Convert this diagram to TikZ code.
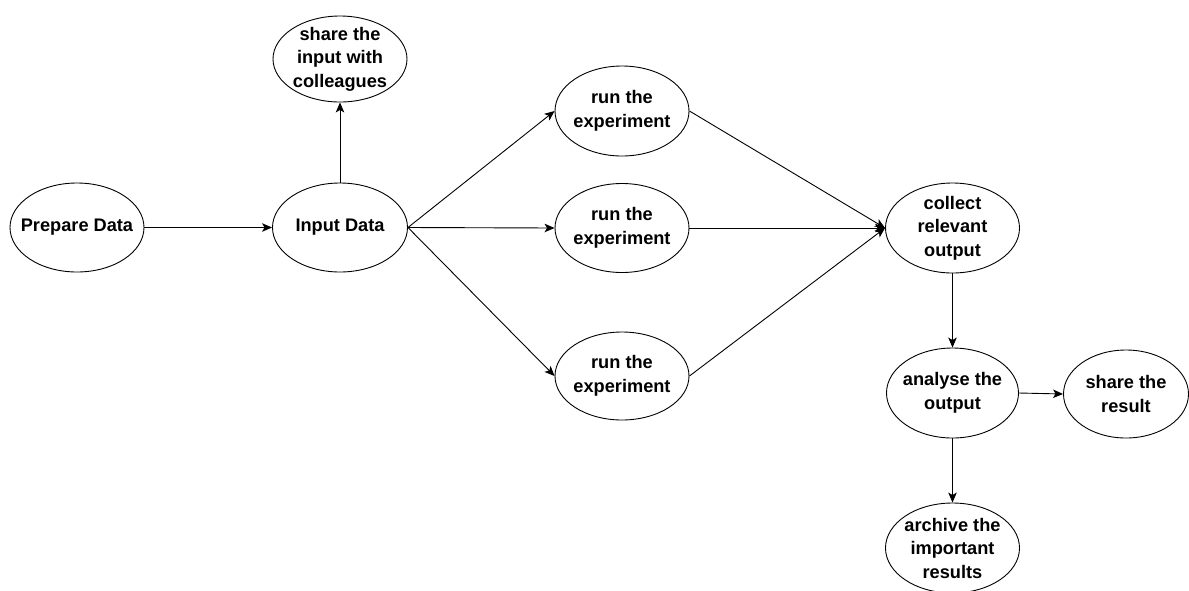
\documentclass[tikz,border=0pt]{standalone}
\usepackage{fontspec}
\setmainfont{Liberation Sans}
\usetikzlibrary{arrows.meta,shapes.geometric}
\begin{document}
\begin{tikzpicture}[x=1pt,y=-1pt,
  bub/.style={ellipse, draw, line width=0.9pt, inner sep=0pt},
  lbl/.style={font=\bfseries\fontsize{18.2}{23.5}\selectfont, align=center, inner sep=0pt},
  arr/.style={-{Stealth[length=10pt,width=8.5pt,inset=2.5pt]}, line width=0.9pt}]
\useasboundingbox (0,0) rectangle (1189,590);
\node[bub, minimum width=134pt, minimum height=89pt, label={[lbl]center:Prepare Data}] (prep) at (77,227.5) {};
\node[bub, minimum width=135pt, minimum height=89pt, label={[lbl]center:Input Data}] (inp) at (340,227.5) {};
\node[bub, minimum width=134pt, minimum height=86pt, label={[lbl]center:{share the\\input with\\colleagues}}] (shin) at (340,59) {};
\node[bub, minimum width=134pt, minimum height=90pt, label={[lbl]center:{run the\\experiment}}] (run1) at (622,111) {};
\node[bub, minimum width=134pt, minimum height=89pt, label={[lbl]center:{run the\\experiment}}] (run2) at (622,228) {};
\node[bub, minimum width=134pt, minimum height=88pt, label={[lbl]center:{run the\\experiment}}] (run3) at (622,376) {};
\node[bub, minimum width=134pt, minimum height=90pt, label={[lbl]center:{collect\\relevant\\output}}] (coll) at (952.5,228) {};
\node[bub, minimum width=132pt, minimum height=90pt, label={[lbl]center:{analyse the\\output}}] (anal) at (952.5,393) {};
\node[bub, minimum width=125pt, minimum height=88pt, label={[lbl]center:{share the\\result}}] (shres) at (1126,394) {};
\node[bub, minimum width=134pt, minimum height=90pt, label={[lbl]center:{archive the\\important\\results}}] (arch) at (952.5,548) {};
\draw[arr] (prep.east) -- (inp.west);
\draw[arr] (inp.north) -- (shin.south);
\draw[arr] (inp.east) -- (run1.west);
\draw[arr] (inp.east) -- (run2.west);
\draw[arr] (inp.east) -- (run3.west);
\draw[arr] (run1.east) -- (coll.west);
\draw[arr] (run2.east) -- (coll.west);
\draw[arr] (run3.east) -- (coll.west);
\draw[arr] (coll.south) -- (anal.north);
\draw[arr] (anal.east) -- (shres.west);
\draw[arr] (anal.south) -- (arch.north);
\end{tikzpicture}
\end{document}
